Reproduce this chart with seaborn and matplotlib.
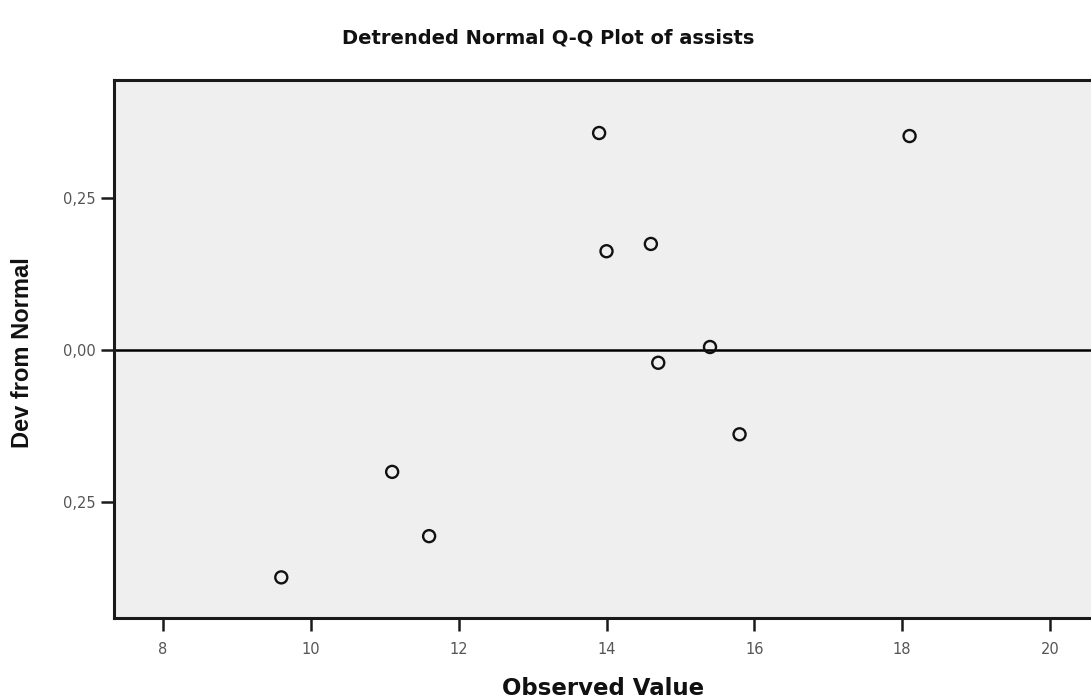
import matplotlib
matplotlib.use("Agg")
import matplotlib.pyplot as plt
import seaborn as sns
import pandas as pd

# Data
observed = [13.9, 18.1, 14.0, 14.6, 15.4, 14.7, 15.8, 11.1, 11.6, 9.6]
dev_from_normal = [0.358, 0.353, 0.163, 0.175, 0.005, -0.021, -0.139, -0.201, -0.307, -0.375]
x_ticks = [8, 10, 12, 14, 16, 18, 20]
y_ticks = [0.25, 0.0, -0.25]
y_tick_labels = ["0,25", "0,00", "0,25"]

sns.set_theme(style="ticks")
plt.rcParams['font.family'] = ['DejaVu Sans']

df = pd.DataFrame({"Observed Value": observed, "Dev from Normal": dev_from_normal})

fig = plt.figure(figsize=(10.91, 6.99), dpi=100)
ax = fig.add_axes([0.1045, 0.1159, 0.904, 0.7697])
ax.set_facecolor("#efefef")

ax.axhline(0, color="black", lw=1.8, zorder=1)
sns.scatterplot(data=df, x="Observed Value", y="Dev from Normal", ax=ax,
                marker="o", s=75, facecolor="none", edgecolor="#111111",
                linewidth=1.7, zorder=3)

ax.set_xlim(7.337, 20.68)
ax.set_ylim(-0.442, 0.4455)
ax.set_xticks(x_ticks)
ax.set_xticklabels([str(t) for t in x_ticks])
ax.set_yticks(y_ticks)
ax.set_yticklabels(y_tick_labels)

for s in ax.spines.values():
    s.set_linewidth(2.2)
    s.set_color("#1a1a1a")
    s.set_visible(True)

ax.tick_params(axis="both", direction="out", length=9.5, width=1.8, color="#1a1a1a",
               labelsize=10.5, labelcolor="#555555")
ax.tick_params(axis="x", pad=8)
ax.tick_params(axis="y", pad=3.5)

ax.set_xlabel("Observed Value", fontsize=16.5, fontweight="bold", color="#111111",
              family="DejaVu Sans")
ax.set_ylabel("Dev from Normal", fontsize=17, fontweight="bold", color="#111111",
              family="Liberation Sans")
ax.xaxis.set_label_coords(0.496, -0.1097)
ax.yaxis.label.set_va("center")
ax.yaxis.set_label_coords(-0.0923, 0.4926)

fig.text(0.5025, 0.945, "Detrended Normal Q-Q Plot of assists", ha="center", va="center",
         fontsize=14, fontweight="bold", color="#111111", family="DejaVu Sans")

fig.savefig("out.png", dpi=100)
